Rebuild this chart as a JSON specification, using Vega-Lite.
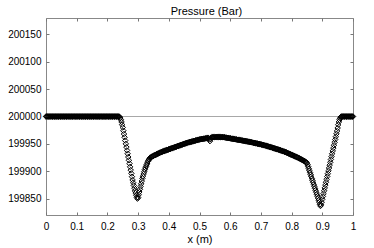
{
"$schema":"https://vega.github.io/schema/vega-lite/v6.json",
"width":307,"height":197,
"autosize":{"type":"none"},
"padding":{"left":46,"top":18,"right":21,"bottom":33},
"title":{"text":"Pressure (Bar)","font":"Liberation Sans","fontSize":11,"fontWeight":"normal","color":"#000","anchor":"middle","dx":7,"offset":-8,"baseline":"alphabetic"},
"data":{"values":[
{"x":0,"p":200000},{"x":0.002,"p":200000},{"x":0.004,"p":200000},{"x":0.006,"p":200000},{"x":0.008,"p":200000},{"x":0.01,"p":200000},{"x":0.012,"p":200000},{"x":0.014,"p":200000},{"x":0.016,"p":200000},{"x":0.018,"p":200000},
{"x":0.02,"p":200000},{"x":0.022,"p":200000},{"x":0.024,"p":200000},{"x":0.026,"p":200000},{"x":0.028,"p":200000},{"x":0.03,"p":200000},{"x":0.032,"p":200000},{"x":0.034,"p":200000},{"x":0.036,"p":200000},{"x":0.038,"p":200000},
{"x":0.04,"p":200000},{"x":0.042,"p":200000},{"x":0.044,"p":200000},{"x":0.046,"p":200000},{"x":0.048,"p":200000},{"x":0.05,"p":200000},{"x":0.052,"p":200000},{"x":0.054,"p":200000},{"x":0.056,"p":200000},{"x":0.058,"p":200000},
{"x":0.06,"p":200000},{"x":0.062,"p":200000},{"x":0.064,"p":200000},{"x":0.066,"p":200000},{"x":0.068,"p":200000},{"x":0.07,"p":200000},{"x":0.072,"p":200000},{"x":0.074,"p":200000},{"x":0.076,"p":200000},{"x":0.078,"p":200000},
{"x":0.08,"p":200000},{"x":0.082,"p":200000},{"x":0.084,"p":200000},{"x":0.086,"p":200000},{"x":0.088,"p":200000},{"x":0.09,"p":200000},{"x":0.092,"p":200000},{"x":0.094,"p":200000},{"x":0.096,"p":200000},{"x":0.098,"p":200000},
{"x":0.1,"p":200000},{"x":0.102,"p":200000},{"x":0.104,"p":200000},{"x":0.106,"p":200000},{"x":0.108,"p":200000},{"x":0.11,"p":200000},{"x":0.112,"p":200000},{"x":0.114,"p":200000},{"x":0.116,"p":200000},{"x":0.118,"p":200000},
{"x":0.12,"p":200000},{"x":0.122,"p":200000},{"x":0.124,"p":200000},{"x":0.126,"p":200000},{"x":0.128,"p":200000},{"x":0.13,"p":200000},{"x":0.132,"p":200000},{"x":0.134,"p":200000},{"x":0.136,"p":200000},{"x":0.138,"p":200000},
{"x":0.14,"p":200000},{"x":0.142,"p":200000},{"x":0.144,"p":200000},{"x":0.146,"p":200000},{"x":0.148,"p":200000},{"x":0.15,"p":200000},{"x":0.152,"p":200000},{"x":0.154,"p":200000},{"x":0.156,"p":200000},{"x":0.158,"p":200000},
{"x":0.16,"p":200000},{"x":0.162,"p":200000},{"x":0.164,"p":200000},{"x":0.166,"p":200000},{"x":0.168,"p":200000},{"x":0.17,"p":200000},{"x":0.172,"p":200000},{"x":0.174,"p":200000},{"x":0.176,"p":200000},{"x":0.178,"p":200000},
{"x":0.18,"p":200000},{"x":0.182,"p":200000},{"x":0.184,"p":200000},{"x":0.186,"p":200000},{"x":0.188,"p":200000},{"x":0.19,"p":200000},{"x":0.192,"p":200000},{"x":0.194,"p":200000},{"x":0.196,"p":200000},{"x":0.198,"p":200000},
{"x":0.2,"p":200000},{"x":0.202,"p":200000},{"x":0.204,"p":200000},{"x":0.206,"p":200000},{"x":0.208,"p":200000},{"x":0.21,"p":200000},{"x":0.212,"p":200000},{"x":0.214,"p":200000},{"x":0.216,"p":200000},{"x":0.218,"p":200000},
{"x":0.22,"p":200000},{"x":0.222,"p":200000},{"x":0.224,"p":200000},{"x":0.226,"p":200000},{"x":0.228,"p":200000},{"x":0.23,"p":200000},{"x":0.232,"p":200000},{"x":0.234,"p":200000},{"x":0.236,"p":200000},{"x":0.238,"p":200000},
{"x":0.24,"p":199999},{"x":0.242,"p":199997},{"x":0.244,"p":199994},{"x":0.246,"p":199990},{"x":0.248,"p":199985},{"x":0.25,"p":199980},{"x":0.252,"p":199974},{"x":0.254,"p":199968},{"x":0.256,"p":199962},{"x":0.258,"p":199956},
{"x":0.26,"p":199950},{"x":0.262,"p":199944},{"x":0.264,"p":199938},{"x":0.266,"p":199932},{"x":0.268,"p":199926},{"x":0.27,"p":199920},{"x":0.272,"p":199914},{"x":0.274,"p":199908},{"x":0.276,"p":199902},{"x":0.278,"p":199896},
{"x":0.28,"p":199890},{"x":0.282,"p":199884},{"x":0.284,"p":199879},{"x":0.286,"p":199874},{"x":0.288,"p":199869},{"x":0.29,"p":199864},{"x":0.292,"p":199860},{"x":0.294,"p":199856},{"x":0.296,"p":199852},{"x":0.298,"p":199850},
{"x":0.3,"p":199852},{"x":0.302,"p":199857},{"x":0.304,"p":199862},{"x":0.306,"p":199867},{"x":0.308,"p":199872},{"x":0.31,"p":199877},{"x":0.312,"p":199882},{"x":0.314,"p":199887},{"x":0.316,"p":199891},{"x":0.318,"p":199895},
{"x":0.32,"p":199899},{"x":0.322,"p":199903},{"x":0.324,"p":199906},{"x":0.326,"p":199909},{"x":0.328,"p":199912},{"x":0.33,"p":199915},{"x":0.332,"p":199918},{"x":0.334,"p":199920},{"x":0.336,"p":199922},{"x":0.338,"p":199923.5},
{"x":0.34,"p":199925},{"x":0.342,"p":199925.6},{"x":0.344,"p":199926.2},{"x":0.346,"p":199926.8},{"x":0.348,"p":199927.4},{"x":0.35,"p":199928},{"x":0.352,"p":199928.6},{"x":0.354,"p":199929.2},{"x":0.356,"p":199929.8},{"x":0.358,"p":199930.4},
{"x":0.36,"p":199931},{"x":0.362,"p":199931.5},{"x":0.364,"p":199932},{"x":0.366,"p":199932.5},{"x":0.368,"p":199933},{"x":0.37,"p":199933.5},{"x":0.372,"p":199934},{"x":0.374,"p":199934.5},{"x":0.376,"p":199935},{"x":0.378,"p":199935.5},
{"x":0.38,"p":199936},{"x":0.382,"p":199936.4},{"x":0.384,"p":199936.8},{"x":0.386,"p":199937.2},{"x":0.388,"p":199937.6},{"x":0.39,"p":199938},{"x":0.392,"p":199938.4},{"x":0.394,"p":199938.8},{"x":0.396,"p":199939.2},{"x":0.398,"p":199939.6},
{"x":0.4,"p":199940},{"x":0.402,"p":199940.4},{"x":0.404,"p":199940.8},{"x":0.406,"p":199941.2},{"x":0.408,"p":199941.6},{"x":0.41,"p":199942},{"x":0.412,"p":199942.4},{"x":0.414,"p":199942.8},{"x":0.416,"p":199943.2},{"x":0.418,"p":199943.6},
{"x":0.42,"p":199944},{"x":0.422,"p":199944.4},{"x":0.424,"p":199944.8},{"x":0.426,"p":199945.2},{"x":0.428,"p":199945.6},{"x":0.43,"p":199946},{"x":0.432,"p":199946.4},{"x":0.434,"p":199946.8},{"x":0.436,"p":199947.2},{"x":0.438,"p":199947.6},
{"x":0.44,"p":199948},{"x":0.442,"p":199948.4},{"x":0.444,"p":199948.8},{"x":0.446,"p":199949.2},{"x":0.448,"p":199949.6},{"x":0.45,"p":199950},{"x":0.452,"p":199950.4},{"x":0.454,"p":199950.8},{"x":0.456,"p":199951.2},{"x":0.458,"p":199951.6},
{"x":0.46,"p":199952},{"x":0.462,"p":199952.3},{"x":0.464,"p":199952.6},{"x":0.466,"p":199952.9},{"x":0.468,"p":199953.2},{"x":0.47,"p":199953.5},{"x":0.472,"p":199953.8},{"x":0.474,"p":199954.1},{"x":0.476,"p":199954.4},{"x":0.478,"p":199954.7},
{"x":0.48,"p":199955},{"x":0.482,"p":199955.3},{"x":0.484,"p":199955.6},{"x":0.486,"p":199955.9},{"x":0.488,"p":199956.2},{"x":0.49,"p":199956.5},{"x":0.492,"p":199956.8},{"x":0.494,"p":199957.1},{"x":0.496,"p":199957.4},{"x":0.498,"p":199957.7},
{"x":0.5,"p":199958},{"x":0.502,"p":199958.2},{"x":0.504,"p":199958.4},{"x":0.506,"p":199958.6},{"x":0.508,"p":199958.8},{"x":0.51,"p":199959},{"x":0.512,"p":199959.2},{"x":0.514,"p":199959.4},{"x":0.516,"p":199959.6},{"x":0.518,"p":199959.8},
{"x":0.52,"p":199960},{"x":0.522,"p":199960.2},{"x":0.524,"p":199960.4},{"x":0.526,"p":199960.6},{"x":0.528,"p":199960.8},{"x":0.53,"p":199960.5},{"x":0.532,"p":199958},{"x":0.534,"p":199955},{"x":0.536,"p":199958.5},{"x":0.538,"p":199961.5},
{"x":0.54,"p":199962},{"x":0.542,"p":199962.1},{"x":0.544,"p":199962.2},{"x":0.546,"p":199962.2},{"x":0.548,"p":199962.3},{"x":0.55,"p":199962.3},{"x":0.552,"p":199962.4},{"x":0.554,"p":199962.4},{"x":0.556,"p":199962.5},{"x":0.558,"p":199962.5},
{"x":0.56,"p":199962.5},{"x":0.562,"p":199962.5},{"x":0.564,"p":199962.4},{"x":0.566,"p":199962.4},{"x":0.568,"p":199962.3},{"x":0.57,"p":199962.3},{"x":0.572,"p":199962.2},{"x":0.574,"p":199962.2},{"x":0.576,"p":199962.1},{"x":0.578,"p":199962.1},
{"x":0.58,"p":199962},{"x":0.582,"p":199961.8},{"x":0.584,"p":199961.6},{"x":0.586,"p":199961.4},{"x":0.588,"p":199961.2},{"x":0.59,"p":199961},{"x":0.592,"p":199960.8},{"x":0.594,"p":199960.6},{"x":0.596,"p":199960.4},{"x":0.598,"p":199960.2},
{"x":0.6,"p":199960},{"x":0.602,"p":199959.8},{"x":0.604,"p":199959.6},{"x":0.606,"p":199959.4},{"x":0.608,"p":199959.2},{"x":0.61,"p":199959},{"x":0.612,"p":199958.8},{"x":0.614,"p":199958.6},{"x":0.616,"p":199958.4},{"x":0.618,"p":199958.2},
{"x":0.62,"p":199958},{"x":0.622,"p":199957.8},{"x":0.624,"p":199957.6},{"x":0.626,"p":199957.4},{"x":0.628,"p":199957.2},{"x":0.63,"p":199957},{"x":0.632,"p":199956.8},{"x":0.634,"p":199956.6},{"x":0.636,"p":199956.4},{"x":0.638,"p":199956.2},
{"x":0.64,"p":199956},{"x":0.642,"p":199955.8},{"x":0.644,"p":199955.6},{"x":0.646,"p":199955.4},{"x":0.648,"p":199955.2},{"x":0.65,"p":199955},{"x":0.652,"p":199954.8},{"x":0.654,"p":199954.6},{"x":0.656,"p":199954.4},{"x":0.658,"p":199954.2},
{"x":0.66,"p":199954},{"x":0.662,"p":199953.75},{"x":0.664,"p":199953.5},{"x":0.666,"p":199953.25},{"x":0.668,"p":199953},{"x":0.67,"p":199952.75},{"x":0.672,"p":199952.5},{"x":0.674,"p":199952.25},{"x":0.676,"p":199952},{"x":0.678,"p":199951.75},
{"x":0.68,"p":199951.5},{"x":0.682,"p":199951.25},{"x":0.684,"p":199951},{"x":0.686,"p":199950.75},{"x":0.688,"p":199950.5},{"x":0.69,"p":199950.25},{"x":0.692,"p":199950},{"x":0.694,"p":199949.75},{"x":0.696,"p":199949.5},{"x":0.698,"p":199949.25},
{"x":0.7,"p":199949},{"x":0.702,"p":199948.7},{"x":0.704,"p":199948.4},{"x":0.706,"p":199948.1},{"x":0.708,"p":199947.8},{"x":0.71,"p":199947.5},{"x":0.712,"p":199947.2},{"x":0.714,"p":199946.9},{"x":0.716,"p":199946.6},{"x":0.718,"p":199946.3},
{"x":0.72,"p":199946},{"x":0.722,"p":199945.65},{"x":0.724,"p":199945.3},{"x":0.726,"p":199944.95},{"x":0.728,"p":199944.6},{"x":0.73,"p":199944.25},{"x":0.732,"p":199943.9},{"x":0.734,"p":199943.55},{"x":0.736,"p":199943.2},{"x":0.738,"p":199942.85},
{"x":0.74,"p":199942.5},{"x":0.742,"p":199942.15},{"x":0.744,"p":199941.8},{"x":0.746,"p":199941.45},{"x":0.748,"p":199941.1},{"x":0.75,"p":199940.75},{"x":0.752,"p":199940.4},{"x":0.754,"p":199940.05},{"x":0.756,"p":199939.7},{"x":0.758,"p":199939.35},
{"x":0.76,"p":199939},{"x":0.762,"p":199938.6},{"x":0.764,"p":199938.2},{"x":0.766,"p":199937.8},{"x":0.768,"p":199937.4},{"x":0.77,"p":199937},{"x":0.772,"p":199936.6},{"x":0.774,"p":199936.2},{"x":0.776,"p":199935.8},{"x":0.778,"p":199935.4},
{"x":0.78,"p":199935},{"x":0.782,"p":199934.5},{"x":0.784,"p":199934},{"x":0.786,"p":199933.5},{"x":0.788,"p":199933},{"x":0.79,"p":199932.5},{"x":0.792,"p":199932},{"x":0.794,"p":199931.5},{"x":0.796,"p":199931},{"x":0.798,"p":199930.5},
{"x":0.8,"p":199930},{"x":0.802,"p":199929.5},{"x":0.804,"p":199929},{"x":0.806,"p":199928.5},{"x":0.808,"p":199928},{"x":0.81,"p":199927.5},{"x":0.812,"p":199927},{"x":0.814,"p":199926.5},{"x":0.816,"p":199926},{"x":0.818,"p":199925.5},
{"x":0.82,"p":199925},{"x":0.822,"p":199924.4},{"x":0.824,"p":199923.8},{"x":0.826,"p":199923.2},{"x":0.828,"p":199922.6},{"x":0.83,"p":199922},{"x":0.832,"p":199921.4},{"x":0.834,"p":199920.8},{"x":0.836,"p":199920.2},{"x":0.838,"p":199919.6},
{"x":0.84,"p":199919},{"x":0.842,"p":199918.3},{"x":0.844,"p":199917.6},{"x":0.846,"p":199916.9},{"x":0.848,"p":199916.2},{"x":0.85,"p":199915},{"x":0.852,"p":199912},{"x":0.854,"p":199908.4},{"x":0.856,"p":199904.8},{"x":0.858,"p":199901.2},
{"x":0.86,"p":199897.6},{"x":0.862,"p":199894},{"x":0.864,"p":199890.4},{"x":0.866,"p":199886.8},{"x":0.868,"p":199883.2},{"x":0.87,"p":199879.6},{"x":0.872,"p":199876},{"x":0.874,"p":199872.4},{"x":0.876,"p":199868.8},{"x":0.878,"p":199865.2},
{"x":0.88,"p":199861.6},{"x":0.882,"p":199858},{"x":0.884,"p":199854.4},{"x":0.886,"p":199850.8},{"x":0.888,"p":199847.2},{"x":0.89,"p":199843.6},{"x":0.892,"p":199839.5},{"x":0.894,"p":199836.5},{"x":0.896,"p":199838.5},{"x":0.898,"p":199843.5},
{"x":0.9,"p":199848.7},{"x":0.902,"p":199853.9},{"x":0.904,"p":199859.1},{"x":0.906,"p":199864.3},{"x":0.908,"p":199869.5},{"x":0.91,"p":199874.7},{"x":0.912,"p":199879.9},{"x":0.914,"p":199885.1},{"x":0.916,"p":199890.3},{"x":0.918,"p":199895.5},
{"x":0.92,"p":199900.7},{"x":0.922,"p":199905.9},{"x":0.924,"p":199911.1},{"x":0.926,"p":199916.3},{"x":0.928,"p":199921.5},{"x":0.93,"p":199926.7},{"x":0.932,"p":199931.9},{"x":0.934,"p":199937.1},{"x":0.936,"p":199942.3},{"x":0.938,"p":199947.5},
{"x":0.94,"p":199952.7},{"x":0.942,"p":199957.9},{"x":0.944,"p":199963.1},{"x":0.946,"p":199968.3},{"x":0.948,"p":199973.5},{"x":0.95,"p":199979},{"x":0.952,"p":199985},{"x":0.954,"p":199990},{"x":0.956,"p":199994},{"x":0.958,"p":199997},
{"x":0.96,"p":199999},{"x":0.962,"p":200000},{"x":0.964,"p":200000},{"x":0.966,"p":200000},{"x":0.968,"p":200000},{"x":0.97,"p":200000},{"x":0.972,"p":200000},{"x":0.974,"p":200000},{"x":0.976,"p":200000},{"x":0.978,"p":200000},
{"x":0.98,"p":200000},{"x":0.982,"p":200000},{"x":0.984,"p":200000},{"x":0.986,"p":200000},{"x":0.988,"p":200000},{"x":0.99,"p":200000},{"x":0.992,"p":200000},{"x":0.994,"p":200000},{"x":0.996,"p":200000},{"x":0.998,"p":200000},
{"x":1,"p":200000}
]},
"layer":[
{"mark":{"type":"rule","color":"#a8a8a8","strokeWidth":1},
 "encoding":{"y":{"datum":200000,"type":"quantitative","scale":{"domain":[199820,200180],"nice":false,"zero":false},"axis":null}}},
{"mark":{"type":"point","shape":"diamond","filled":false,"stroke":"#000","strokeWidth":1,"size":30,"opacity":1},
 "encoding":{
  "x":{"field":"x","type":"quantitative","scale":{"domain":[0,1],"nice":false,"zero":false},
       "axis":{"orient":"bottom","title":"x (m)","values":[0,0.1,0.2,0.3,0.4,0.5,0.6,0.7,0.8,0.9,1],"format":"~g","labelFlush":false,"labelOverlap":false,"labelPadding":9,"titlePadding":2}},
  "y":{"field":"p","type":"quantitative","scale":{"domain":[199820,200180],"nice":false,"zero":false},
       "axis":{"orient":"left","title":null,"values":[199850,199900,199950,200000,200050,200100,200150],"format":"d","labelOverlap":false,"labelPadding":8}}}},
{"data":{"values":[{"x":0,"p":200000}]},
 "mark":{"type":"point","opacity":0},
 "encoding":{
  "x":{"field":"x","type":"quantitative","scale":{"domain":[0,1],"nice":false,"zero":false},
       "axis":{"orient":"top","title":null,"labels":false,"values":[0,0.1,0.2,0.3,0.4,0.5,0.6,0.7,0.8,0.9,1]}},
  "y":{"field":"p","type":"quantitative","scale":{"domain":[199820,200180],"nice":false,"zero":false},
       "axis":{"orient":"right","title":null,"labels":false,"values":[199850,199900,199950,200000,200050,200100,200150]}}}}
],
"resolve":{"axis":{"x":"independent","y":"independent"}},
"config":{
 "view":{"stroke":"#888","strokeWidth":1},
 "font":"Liberation Sans",
 "axis":{"domain":false,"grid":false,"ticks":true,"tickColor":"#777","tickSize":-3,"tickWidth":1,
   "labelFont":"Liberation Sans","labelFontSize":10,"labelColor":"#000",
   "titleFont":"Liberation Sans","titleFontSize":11,"titleFontWeight":"normal","titleColor":"#000"}
}
}
